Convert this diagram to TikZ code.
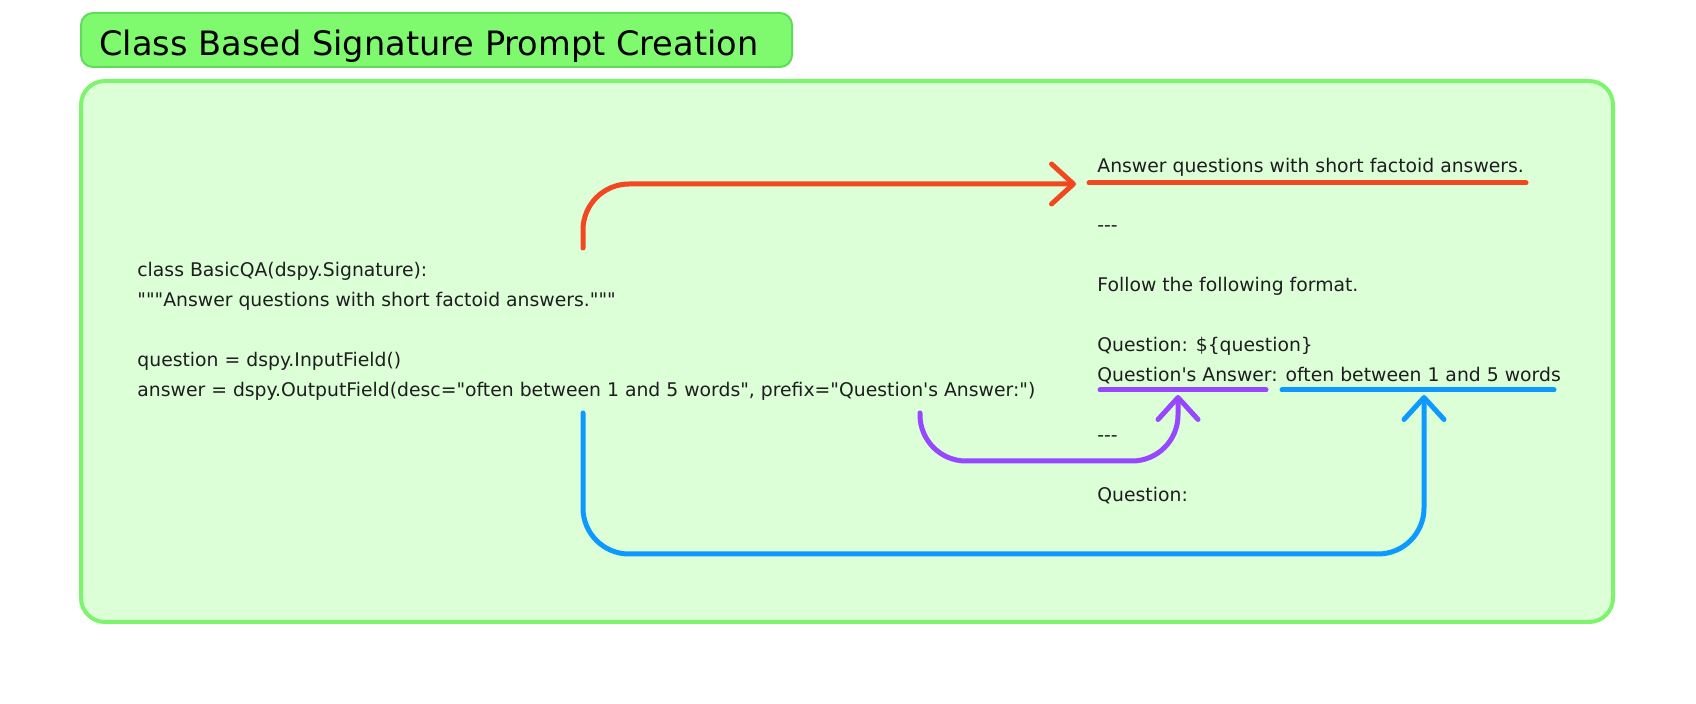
\documentclass[tikz,border=0pt]{standalone}
\usepackage{fontspec}
\setmainfont{DejaVu Sans}[Ligatures=TeXOff]
\usepackage{tikz}
\usepackage{xcolor}
\usetikzlibrary{arrows.meta, positioning}

\definecolor{boxfill}{HTML}{DCFFD8}
\definecolor{boxline}{HTML}{7CF46C}
\definecolor{titlefill}{HTML}{7FFA6F}
\definecolor{titleline}{HTML}{62DA5A}
\definecolor{textgray}{HTML}{1E1E1E}
\definecolor{linkred}{HTML}{F24822}
\definecolor{linkpurple}{HTML}{9747FF}
\definecolor{linkblue}{HTML}{0D99FF}

\begin{document}
\begin{tikzpicture}[x=0.5pt, y=-0.5pt,
    txt/.style={anchor=base west, inner sep=0pt, text=textgray, font=\fontsize{9.4pt}{15pt}\selectfont},
    link/.style={line width=2.5pt, line cap=round, line join=round, rounded corners=23pt,
        -{Straight Barb[length=11pt, width=20pt, round]}},
    uline/.style={line width=2.5pt, line cap=round}]
\useasboundingbox (0,0) rectangle (1696,704);

% Title
\draw[titleline, fill=titlefill, line width=1pt, rounded corners=6pt] (81,13) rectangle (792,67);
\node[anchor=base west, inner sep=0pt, font=\fontsize{16.8pt}{20pt}\selectfont] (title) at (99,56) {Class Based Signature Prompt Creation};

% Main panel
\draw[boxline, fill=boxfill, line width=2pt, rounded corners=12pt] (81,81) rectangle (1613,622);

% Signature class (left)
\node[txt] (cls) at (137,277) {class BasicQA(dspy.Signature):};
\node[txt] (doc) at (137,307) {"""Answer questions with short factoid answers."""};
\node[txt] (qin) at (137,367) {question = dspy.InputField()};
\node[txt] (aout) at (137,397) {answer = dspy.OutputField(desc="often between 1 and 5 words", prefix="Question's Answer:")};

% Generated prompt (right)
\node[txt] (pdoc) at (1097,173) {Answer questions with short factoid answers.};
\node[txt] (sep1) at (1097,232) {---};
\node[txt] (fmt) at (1097,292) {Follow the following format.};
\node[txt] (pq) at (1097,352) {Question: \$\{question\}};
\node[txt] (pa) at (1097,382) {Question's Answer: often between 1 and 5 words};
\node[txt] (sep2) at (1097,442) {---};
\node[txt] (pq2) at (1097,502) {Question:};

% Underlines
\draw[uline, linkred] (1089,183) coordinate (redL) -- (1526,183) coordinate (redR);
\draw[uline, linkpurple] (1100,390) coordinate (purL) -- (1266,390) coordinate (purR);
\draw[uline, linkblue] (1282,390) coordinate (bluL) -- (1554,390) coordinate (bluR);

% Link ends
\coordinate (redS) at (583,248);
\coordinate (redE) at (1076,184);
\coordinate (purS) at (920,413);
\coordinate (purE) at (1178,395);
\coordinate (bluS) at (583,413);
\coordinate (bluE) at (1424,395);

% Links
\draw[link, linkred] (redS) -- (redS |- redE) -- (redE);
\draw[link, linkpurple] (purS) -- (920,461) -- (1178,461) -- (purE);
\draw[link, linkblue] (bluS) -- (583,554) -- (1424,554) -- (bluE);
\end{tikzpicture}
\end{document}
